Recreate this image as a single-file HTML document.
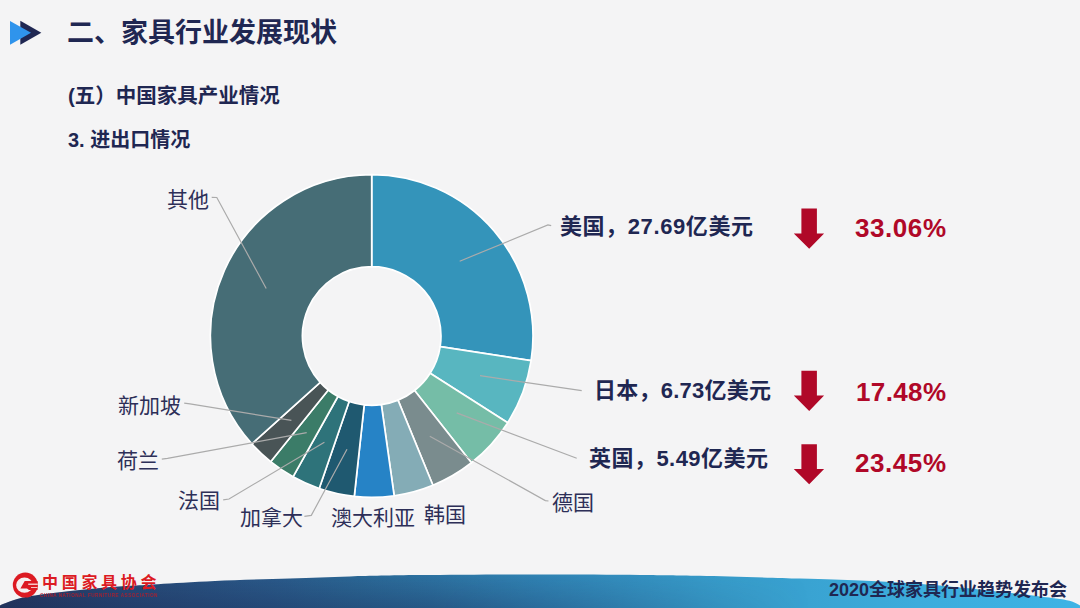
<!DOCTYPE html>
<html lang="zh"><head><meta charset="utf-8"><title>家具行业发展现状</title>
<style>
html,body{margin:0;padding:0}
body{width:1080px;height:608px;overflow:hidden;background:#f4f4f5;position:relative;font-family:"Liberation Sans",sans-serif}
svg{position:absolute;left:0;top:0;display:block}
.t>*{position:absolute;margin:0;white-space:nowrap;color:transparent;line-height:1}
svg text{font-family:"Liberation Sans","Noto Sans CJK SC",sans-serif}
</style></head><body>
<div class="t">
<h1 style="left:67px;top:18px;font-size:27px;font-weight:bold">二、家具行业发展现状</h1>
<h2 style="left:67px;top:85px;font-size:20px;font-weight:bold">(五）中国家具产业情况</h2>
<h3 style="left:67px;top:129px;font-size:20px;font-weight:bold">3. 进出口情况</h3>
<span style="left:167px;top:188px;font-size:21px;font-weight:normal">其他</span>
<span style="left:118px;top:394px;font-size:21px;font-weight:normal">新加坡</span>
<span style="left:117px;top:449px;font-size:21px;font-weight:normal">荷兰</span>
<span style="left:178px;top:489px;font-size:21px;font-weight:normal">法国</span>
<span style="left:240px;top:506px;font-size:21px;font-weight:normal">加拿大</span>
<span style="left:331px;top:505px;font-size:21px;font-weight:normal">澳大利亚</span>
<span style="left:424px;top:503px;font-size:21px;font-weight:normal">韩国</span>
<span style="left:552px;top:491px;font-size:21px;font-weight:normal">德国</span>
<span style="left:560px;top:214px;font-size:22px;font-weight:bold">美国，27.69亿美元</span>
<span style="left:855px;top:215px;font-size:26px;font-weight:bold">33.06%</span>
<span style="left:594px;top:379px;font-size:22px;font-weight:bold">日本，6.73亿美元</span>
<span style="left:856px;top:379px;font-size:26px;font-weight:bold">17.48%</span>
<span style="left:589px;top:446px;font-size:22px;font-weight:bold">英国，5.49亿美元</span>
<span style="left:855px;top:451px;font-size:26px;font-weight:bold">23.45%</span>
<span style="left:42px;top:573px;font-size:16px;font-weight:bold">中国家具协会</span>
<span style="left:40px;top:593px;font-size:4px;font-weight:bold">CHINA NATIONAL FURNITURE ASSOCIATION</span>
<span style="left:829px;top:581px;font-size:18px;font-weight:bold">2020全球家具行业趋势发布会</span>
</div>
<svg width="1080" height="608" viewBox="0 0 1080 608">
<defs>
<linearGradient id="bg" x1="0" y1="0" x2="1080" y2="0" gradientUnits="userSpaceOnUse">
<stop offset="0" stop-color="#25375f"/><stop offset="0.12" stop-color="#284a78"/><stop offset="0.25" stop-color="#2a5a8a"/><stop offset="0.33" stop-color="#2b6896"/><stop offset="0.5" stop-color="#3083b4"/><stop offset="0.67" stop-color="#379cca"/><stop offset="0.85" stop-color="#3cacdc"/><stop offset="1" stop-color="#3db3e5"/>
</linearGradient>
<linearGradient id="bv" x1="0" y1="574" x2="0" y2="608" gradientUnits="userSpaceOnUse"><stop offset="0" stop-color="#1a2a55" stop-opacity="0"/><stop offset="1" stop-color="#1a2a55" stop-opacity="0.36"/></linearGradient>
<linearGradient id="bh" x1="0" y1="0" x2="1080" y2="0" gradientUnits="userSpaceOnUse"><stop offset="0" stop-color="#fff"/><stop offset="0.4" stop-color="#fff"/><stop offset="0.75" stop-color="#000"/></linearGradient>
<mask id="bm" maskUnits="userSpaceOnUse" x="0" y="560" width="1080" height="48"><rect x="0" y="560" width="1080" height="48" fill="url(#bh)"/></mask>
</defs>
<path d="M-6.0 609.0C-5.0 608.4 -2.4 606.7 0.0 605.5C2.4 604.3 4.8 603.2 8.3 602.0C11.8 600.8 15.9 599.2 20.8 598.0C25.8 596.8 29.8 596.2 38.0 595.0C46.2 593.8 59.7 592.2 70.0 591.0C80.3 589.8 90.0 588.9 100.0 588.0C110.0 587.1 120.3 586.4 130.0 585.8C139.7 585.2 143.8 585.0 158.0 584.2C172.2 583.4 193.0 582.0 215.0 581.0C237.0 580.0 267.5 579.2 290.0 578.4C312.5 577.6 328.3 576.9 350.0 576.4C371.7 575.9 388.3 575.4 420.0 575.1C451.7 574.8 503.3 574.5 540.0 574.5C576.7 574.5 613.3 574.7 640.0 574.9C666.7 575.1 673.3 575.2 700.0 575.8C726.7 576.4 773.3 577.8 800.0 578.6C826.7 579.4 843.3 579.8 860.0 580.5C876.7 581.2 886.7 581.8 900.0 582.6C913.3 583.5 930.0 584.8 940.0 585.6C950.0 586.4 950.0 586.6 960.0 587.6C970.0 588.6 986.7 590.3 1000.0 591.8C1013.3 593.3 1030.0 595.2 1040.0 596.4C1050.0 597.6 1054.7 598.1 1060.0 599.0C1065.3 599.9 1068.7 600.4 1072.0 601.5C1075.3 602.6 1078.0 604.2 1080.0 605.5C1082.0 606.8 1083.3 608.4 1084.0 609.0L1084 612L-6 612Z" fill="url(#bg)"/>
<path d="M-6.0 609.0C-5.0 608.4 -2.4 606.7 0.0 605.5C2.4 604.3 4.8 603.2 8.3 602.0C11.8 600.8 15.9 599.2 20.8 598.0C25.8 596.8 29.8 596.2 38.0 595.0C46.2 593.8 59.7 592.2 70.0 591.0C80.3 589.8 90.0 588.9 100.0 588.0C110.0 587.1 120.3 586.4 130.0 585.8C139.7 585.2 143.8 585.0 158.0 584.2C172.2 583.4 193.0 582.0 215.0 581.0C237.0 580.0 267.5 579.2 290.0 578.4C312.5 577.6 328.3 576.9 350.0 576.4C371.7 575.9 388.3 575.4 420.0 575.1C451.7 574.8 503.3 574.5 540.0 574.5C576.7 574.5 613.3 574.7 640.0 574.9C666.7 575.1 673.3 575.2 700.0 575.8C726.7 576.4 773.3 577.8 800.0 578.6C826.7 579.4 843.3 579.8 860.0 580.5C876.7 581.2 886.7 581.8 900.0 582.6C913.3 583.5 930.0 584.8 940.0 585.6C950.0 586.4 950.0 586.6 960.0 587.6C970.0 588.6 986.7 590.3 1000.0 591.8C1013.3 593.3 1030.0 595.2 1040.0 596.4C1050.0 597.6 1054.7 598.1 1060.0 599.0C1065.3 599.9 1068.7 600.4 1072.0 601.5C1075.3 602.6 1078.0 604.2 1080.0 605.5C1082.0 606.8 1083.3 608.4 1084.0 609.0L1084 612L-6 612Z" fill="url(#bv)" mask="url(#bm)"/>
<!-- header icon -->
<path d="M20.3 20.8L41.3 32.8L20.3 44.8Z" fill="#1f2752"/>
<path d="M10 21L31 32.8L10 44.7Z" fill="#2f94ec"/>
<!-- donut -->
<g stroke="#fff" stroke-width="1.7" stroke-linejoin="round">
<path d="M371.70 174.70A161.3 161.3 0 0 1 531.10 360.68L440.18 346.60A69.3 69.3 0 0 0 371.70 266.70Z" fill="#3494ba"/><path d="M531.10 360.68A161.3 161.3 0 0 1 507.74 422.67L430.15 373.23A69.3 69.3 0 0 0 440.18 346.60Z" fill="#58b6c0"/><path d="M507.74 422.67A161.3 161.3 0 0 1 471.45 462.76L414.56 390.46A69.3 69.3 0 0 0 430.15 373.23Z" fill="#75bda7"/><path d="M471.45 462.76A161.3 161.3 0 0 1 432.91 485.24L398.00 400.12A69.3 69.3 0 0 0 414.56 390.46Z" fill="#7a8c8e"/><path d="M432.91 485.24A161.3 161.3 0 0 1 394.15 495.73L381.34 404.63A69.3 69.3 0 0 0 398.00 400.12Z" fill="#84acb6"/><path d="M394.15 495.73A161.3 161.3 0 0 1 354.28 496.36L364.22 404.89A69.3 69.3 0 0 0 381.34 404.63Z" fill="#2683c6"/><path d="M354.28 496.36A161.3 161.3 0 0 1 319.19 488.51L349.14 401.52A69.3 69.3 0 0 0 364.22 404.89Z" fill="#1f5970"/><path d="M319.19 488.51A161.3 161.3 0 0 1 293.01 476.80L337.89 396.49A69.3 69.3 0 0 0 349.14 401.52Z" fill="#2e737a"/><path d="M293.01 476.80A161.3 161.3 0 0 1 270.63 461.71L328.28 390.01A69.3 69.3 0 0 0 337.89 396.49Z" fill="#3b7c68"/><path d="M270.63 461.71A161.3 161.3 0 0 1 251.83 443.93L320.20 382.37A69.3 69.3 0 0 0 328.28 390.01Z" fill="#495456"/><path d="M251.83 443.93A161.3 161.3 0 0 1 371.70 174.70L371.70 266.70A69.3 69.3 0 0 0 320.20 382.37Z" fill="#466d76"/>
</g>
<g fill="none" stroke="#ababab" stroke-width="1.2"><polyline points="211.7,197.3 216.8,197.5 266.2,288.5"/><polyline points="184.2,403.2 190.0,403.8 291.4,420.4"/><polyline points="161.8,459.2 167.5,458.4 306.7,432.7"/><polyline points="223.2,499.8 229.0,499.0 324.4,442.2"/><polyline points="304.4,516.3 311.3,515.4 347.0,449.2"/><polyline points="548.5,501.0 545.3,500.6 429.8,436.2"/><polyline points="581.7,390.7 480.0,375.7"/><polyline points="576.7,458.3 456.7,412.9"/><polyline points="551.2,225.7 547.9,225.0 459.7,261.2"/></g>
<g fill="#b00828"><path d="M801.4 208.6H816.9V233.4H824.1L809.2 248.7L793.8 233.4H801.4Z"/><path d="M801.4 370.8H816.9V395.6H824.1L809.2 410.90000000000003L793.8 395.6H801.4Z"/><path d="M801.4 444.2H816.9V469.0H824.1L809.2 484.3L793.8 469.0H801.4Z"/></g>
<g fill="#1f2752" font-weight="bold">
<text x="67" y="42" font-size="27">二、家具行业发展现状</text>
<text x="68" y="103" font-size="20.5">(五）中国家具产业情况</text>
<text x="68" y="147" font-size="20">3. 进出口情况</text>
<text x="560" y="234" font-size="22" textLength="193" lengthAdjust="spacing">美国，27.69亿美元</text>
<text x="594" y="398" font-size="22" textLength="177" lengthAdjust="spacing">日本，6.73亿美元</text>
<text x="589" y="466" font-size="22" textLength="179" lengthAdjust="spacing">英国，5.49亿美元</text>
<text x="829" y="595.7" font-size="18">2020全球家具行业趋势发布会</text>
</g>
<g fill="#2d2f58" font-size="21">
<text x="167" y="207">其他</text>
<text x="118" y="412.5">新加坡</text>
<text x="117" y="468">荷兰</text>
<text x="178" y="508">法国</text>
<text x="240" y="525">加拿大</text>
<text x="331" y="525">澳大利亚</text>
<text x="424" y="522">韩国</text>
<text x="552" y="510">德国</text>
</g>
<g fill="#b00828" font-weight="bold" font-size="26">
<text x="855" y="237" textLength="91" lengthAdjust="spacing">33.06%</text>
<text x="856" y="400.7" textLength="90" lengthAdjust="spacing">17.48%</text>
<text x="855" y="472.1" textLength="91" lengthAdjust="spacing">23.45%</text>
</g>

<!-- logo -->
<g>
<circle cx="25.3" cy="585.1" r="12.5" fill="#dc1a22"/>
<ellipse cx="24.5" cy="585.1" rx="8.4" ry="7.7" fill="#f6f0f0"/>
<path d="M24.7 580.9H37.6V590H29L27 588.5H20.4Z" fill="#dc1a22"/>
<path d="M28.2 583.6H37.8V585H28.2ZM31 586.9H37.5V588.1H31Z" fill="#f6c4c4"/>
<text x="42" y="587.5" font-size="16" font-weight="bold" fill="#dc1a22" letter-spacing="3.7">中国家具协会</text>
<text x="40" y="597.2" font-size="4.7" font-weight="bold" fill="#c41a26" opacity="0.8" textLength="117.5" lengthAdjust="spacing">CHINA NATIONAL FURNITURE ASSOCIATION</text>

</g>
</svg>
</body></html>
